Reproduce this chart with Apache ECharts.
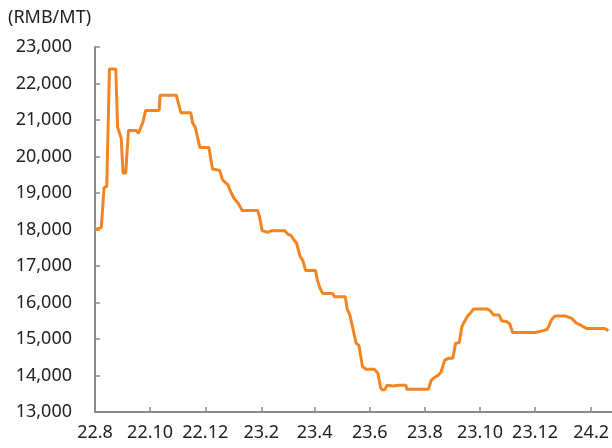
<!DOCTYPE html>
<html>
<head>
<meta charset="utf-8">
<script src="https://cdn.jsdelivr.net/npm/echarts@6/dist/echarts.min.js"></script>
<style>
  html, body { margin: 0; padding: 0; background: #fff; }
  #chart { width: 612px; height: 448px; }
</style>
</head>
<body>
<div id="chart"></div>
<script>
// 价格拐点（日期 / RMB/MT）
const dates = [
  '2022-08-01', '2022-08-08', '2022-08-11', '2022-08-14', '2022-08-17', '2022-08-24',
  '2022-08-26', '2022-08-28', '2022-08-30', '2022-09-01', '2022-09-04', '2022-09-07',
  '2022-09-16', '2022-09-18', '2022-09-20', '2022-09-23', '2022-09-25', '2022-09-26',
  '2022-10-11', '2022-10-12', '2022-10-30', '2022-11-04', '2022-11-15', '2022-11-17',
  '2022-11-20', '2022-11-25', '2022-12-05', '2022-12-09', '2022-12-17', '2022-12-20',
  '2022-12-23', '2022-12-26', '2022-12-29', '2022-12-31', '2023-01-02', '2023-01-06',
  '2023-01-11', '2023-01-28', '2023-01-30', '2023-02-02', '2023-02-08', '2023-02-12',
  '2023-02-27', '2023-03-02', '2023-03-06', '2023-03-09', '2023-03-12', '2023-03-16',
  '2023-03-19', '2023-03-22', '2023-04-02', '2023-04-04', '2023-04-07', '2023-04-10',
  '2023-04-21', '2023-04-23', '2023-05-05', '2023-05-07', '2023-05-10', '2023-05-12',
  '2023-05-17', '2023-05-20', '2023-05-24', '2023-05-28', '2023-06-06', '2023-06-10',
  '2023-06-13', '2023-06-15', '2023-06-18', '2023-06-20', '2023-06-27', '2023-07-03',
  '2023-07-11', '2023-07-12', '2023-08-05', '2023-08-08', '2023-08-12', '2023-08-16',
  '2023-08-19', '2023-08-23', '2023-08-27', '2023-09-01', '2023-09-04', '2023-09-08',
  '2023-09-11', '2023-09-13', '2023-09-17', '2023-09-20', '2023-09-24', '2023-10-09',
  '2023-10-12', '2023-10-16', '2023-10-22', '2023-10-25', '2023-10-31', '2023-11-03',
  '2023-11-06', '2023-12-01', '2023-12-05', '2023-12-10', '2023-12-14', '2023-12-16',
  '2023-12-19', '2023-12-23', '2024-01-03', '2024-01-10', '2024-01-12', '2024-01-16',
  '2024-01-19', '2024-01-23', '2024-01-27', '2024-02-16', '2024-02-20'
];
const prices = [
  18000, 18050, 19150, 19180, 22400, 22400,
  20800, 20770, 20500, 19550, 19550, 20710,
  20710, 20630, 20600, 20940, 20970, 21260,
  21260, 21680, 21680, 21200, 21200, 20920,
  20800, 20250, 20250, 19660, 19620, 19370,
  19290, 19230, 19040, 19000, 18850, 18730,
  18520, 18520, 18360, 17970, 17920, 17965,
  17965, 17880, 17830, 17720, 17630, 17260,
  17150, 16880, 16880, 16620, 16390, 16250,
  16250, 16160, 16160, 15820, 15660, 15650,
  14880, 14830, 14240, 14170, 14170, 14070,
  13670, 13600, 13620, 13730, 13710, 13735,
  13735, 13625, 13625, 13870, 13950, 14010,
  14100, 14420, 14470, 14470, 14880, 14900,
  15340, 15440, 15620, 15700, 15820, 15820,
  15780, 15660, 15660, 15500, 15470, 15410,
  15180, 15180, 15200, 15230, 15260, 15340,
  15520, 15630, 15630, 15570, 15550, 15430,
  15400, 15340, 15290, 15290, 15230
];
// x 轴刻度（每两个月）
const tickDates = [
  '2022-08-01', '2022-10-01', '2022-12-01', '2023-02-01', '2023-04-01',
  '2023-06-01', '2023-08-01', '2023-10-01', '2023-12-01', '2024-02-01'
];
const yTicks = { min: 13000, max: 23000, step: 1000 };

const ts = s => new Date(s + 'T00:00:00Z').getTime();
const tickValues = tickDates.map(ts);
const font = '"Noto Sans", "DejaVu Sans", sans-serif';
const axisGray = '#8a8a8a';

const chart = echarts.init(document.getElementById('chart'));
chart.setOption({
  animation: false,
  title: {
    text: '(RMB/MT)', left: 3, top: 4,
    textStyle: { fontFamily: font, fontSize: 18, fontWeight: 'normal', color: '#222' },
  },
  grid: { left: 95, right: 0, top: 47, bottom: 36 },
  xAxis: {
    type: 'value',
    min: ts('2022-08-01'), max: ts('2024-02-24'),
    axisLine: { lineStyle: { color: axisGray, width: 2 } },
    axisTick: { show: true, inside: true, length: 5, customValues: tickValues, lineStyle: { color: axisGray, width: 1.5 } },
    axisLabel: {
      customValues: tickValues, margin: 12,
      fontFamily: font, fontSize: 18, color: '#222',
      formatter: v => {
        const d = new Date(v);
        return String(d.getUTCFullYear()).slice(2) + '.' + (d.getUTCMonth() + 1);
      },
    },
    splitLine: { show: false },
  },
  yAxis: {
    type: 'value',
    min: yTicks.min, max: yTicks.max, interval: yTicks.step,
    axisLine: { show: true, lineStyle: { color: axisGray, width: 2 } },
    axisTick: { show: true, inside: true, length: 5, lineStyle: { color: axisGray, width: 1.5 } },
    axisLabel: {
      margin: 23, fontFamily: font, fontSize: 18, color: '#222',
      formatter: v => v.toLocaleString('en-US'),
    },
    splitLine: { show: false },
  },
  series: [{
    type: 'line',
    data: dates.map((d, i) => [ts(d), prices[i]]),
    showSymbol: false,
    lineStyle: { color: '#F4841F', width: 3 },
    itemStyle: { color: '#F4841F' },
  }],
});
</script>
</body>
</html>
